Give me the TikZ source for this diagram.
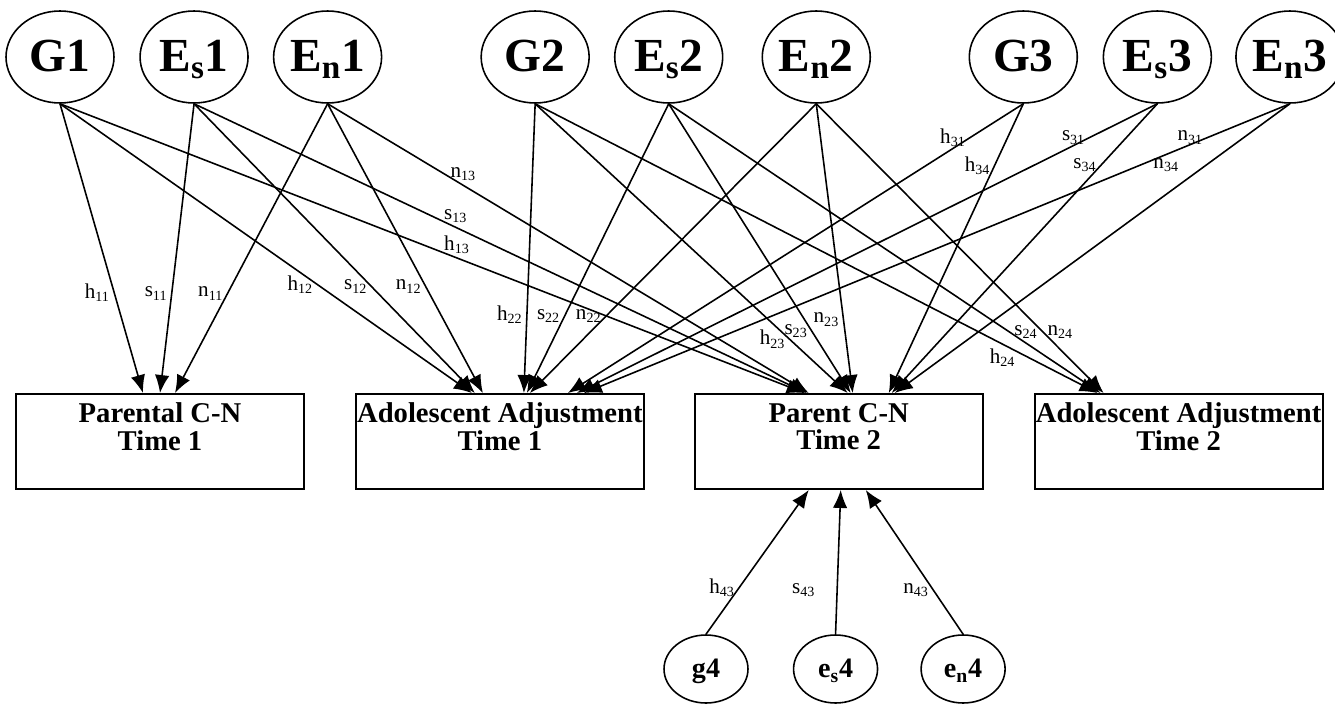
\documentclass[tikz,border=0pt]{standalone}
\usepackage{fontspec}
\setmainfont{Liberation Serif}
\usetikzlibrary{positioning,calc,arrows.meta,shapes.geometric}

\newcommand{\coef}[2]{#1\textsubscript{#2}}

\begin{document}
\begin{tikzpicture}[
  x=0.02cm, y=-0.02cm,
  line width=0.9pt,
  latent/.style={draw, ellipse, minimum width=2.16cm, minimum height=1.84cm,
                 inner sep=0pt, text height=18pt, text depth=1pt,
                 font=\fontsize{27}{30}\selectfont\bfseries},
  latentsm/.style={draw, ellipse, minimum width=1.68cm, minimum height=1.36cm,
                   inner sep=0pt, text height=11pt, text depth=1pt,
                   font=\fontsize{16}{19}\selectfont\bfseries},
  box/.style={draw, line width=1.1pt, minimum width=5.76cm, minimum height=1.9cm,
              inner xsep=0pt, align=center, text depth=17pt,
              font=\fontsize{16.3}{15.5}\selectfont\bfseries},
  effect/.style={-{Latex[length=3.6mm,width=2.9mm]}},
  coef/.style={font=\fontsize{12}{14}\selectfont, inner sep=2pt},
]
\useasboundingbox (0,0) rectangle (1335,706);

% ---------- genetic / environment factors ----------
\node[latent]                    (g1)  at (60,57) {G1};
\node[latent, right=0.49cm of g1]  (es1) {E\textsubscript{s}1};
\node[latent, right=0.48cm of es1] (en1) {E\textsubscript{n}1};

\node[latent, right=1.96cm of en1] (g2)  {G2};
\node[latent, right=0.48cm of g2]  (es2) {E\textsubscript{s}2};
\node[latent, right=0.76cm of es2] (en2) {E\textsubscript{n}2};

\node[latent, right=1.95cm of en2] (g3)  {G3};
\node[latent, right=0.49cm of g3]  (es3) {E\textsubscript{s}3};
\node[latent, right=0.46cm of es3] (en3) {E\textsubscript{n}3};

% ---------- measured variables ----------
\node[box]                      (pcn1) at (160,441.5) {Parental C-N\\Time 1};
\node[box, right=1cm of pcn1]    (adj1) {Adolescent Adjustment\\Time 1};
\node[box, right=0.98cm of adj1] (pcn2) {Parent C-N\\Time 2};
\node[box, right=1cm of pcn2]    (adj2) {Adolescent Adjustment\\Time 2};

% ---------- unique factors ----------
\node[latentsm]                    (g4)  at (706,669) {g4};
\node[latentsm, right=0.88cm of g4]  (es4) {e\textsubscript{s}4};
\node[latentsm, right=0.84cm of es4] (en4) {e\textsubscript{n}4};

% ---------- paths, time 1 ----------
\draw[effect] (g1.south) -- ($(pcn1.north)+(-17,0)$) node[coef, pos=.653, left] {\coef{h}{11}};
\draw[effect] (g1.south) -- ($(adj1.north)+(-28,0)$) node[coef, pos=.625, left] {\coef{h}{12}};
\draw[effect] (g1.south) -- ($(pcn2.north)+(-34,0)$) node[coef, pos=.533, above] {\coef{h}{13}};

\draw[effect] (es1.south) -- ($(pcn1.north)+(0,0)$)   node[coef, pos=.656, left] {\coef{s}{11}};
\draw[effect] (es1.south) -- ($(adj1.north)+(-25,0)$) node[coef, pos=.632, left] {\coef{s}{12}};
\draw[effect] (es1.south) -- ($(pcn2.north)+(-32,0)$) node[coef, pos=.427, above] {\coef{s}{13}};

\draw[effect] (en1.south) -- ($(pcn1.north)+(15,0)$)  node[coef, pos=.656, left] {\coef{n}{11}};
\draw[effect] (en1.south) -- ($(adj1.north)+(-17,0)$) node[coef, pos=.632, left] {\coef{n}{12}};
\draw[effect] (en1.south) -- ($(pcn2.north)+(-30,0)$) node[coef, pos=.282, above] {\coef{n}{13}};

% ---------- paths, time 2 ----------
\draw[effect] (g2.south) -- ($(adj1.north)+(24,0)$)  node[coef, pos=.729, left] {\coef{h}{22}};
\draw[effect] (g2.south) -- ($(pcn2.north)+(9,0)$)   node[coef, pos=.814, left] {\coef{h}{23}};
\draw[effect] (g2.south) -- ($(adj2.north)+(-81,0)$) node[coef, pos=.831, below] {\coef{h}{24}};

\draw[effect] (es2.south) -- ($(adj1.north)+(27,0)$)  node[coef, pos=.735, left] {\coef{s}{22}};
\draw[effect] (es2.south) -- ($(pcn2.north)+(12,0)$)  node[coef, pos=.787, left] {\coef{s}{23}};
\draw[effect] (es2.south) -- ($(adj2.north)+(-78,0)$) node[coef, pos=.827, above] {\coef{s}{24}};

\draw[effect] (en2.south) -- ($(adj1.north)+(30,0)$)  node[coef, pos=.735, left] {\coef{n}{22}};
\draw[effect] (en2.south) -- ($(pcn2.north)+(14,0)$)  node[coef, pos=.746, left] {\coef{n}{23}};
\draw[effect] (en2.south) -- ($(adj2.north)+(-75,0)$) node[coef, pos=.790, right] {\coef{n}{24}};

% ---------- paths, time 3 ----------
\draw[effect] (g3.south) -- ($(adj1.north)+(68,0)$) node[coef, pos=.117, left] {\coef{h}{31}};
\draw[effect] (g3.south) -- ($(pcn2.north)+(50,0)$) node[coef, pos=.213, left] {\coef{h}{34}};

\draw[effect] (es3.south) -- ($(adj1.north)+(77,0)$) node[coef, pos=.117, left] {\coef{s}{31}};
\draw[effect] (es3.south) -- ($(pcn2.north)+(53,0)$) node[coef, pos=.213, left] {\coef{s}{34}};

\draw[effect] (en3.south) -- ($(adj1.north)+(84,0)$) node[coef, pos=.117, left] {\coef{n}{31}};
\draw[effect] (en3.south) -- ($(pcn2.north)+(56,0)$) node[coef, pos=.213, left=4.5mm] {\coef{n}{34}};

% ---------- unique paths ----------
\draw[effect] (g4.north)  -- ($(pcn2.south)+(-30,0)$) node[coef, pos=.322, left] {\coef{h}{43}};
\draw[effect] (es4.north) -- ($(pcn2.south)+(2,0)$)   node[coef, pos=.308, left=3.5mm] {\coef{s}{43}};
\draw[effect] (en4.north) -- ($(pcn2.south)+(27,0)$)  node[coef, pos=.308, left] {\coef{n}{43}};

\end{tikzpicture}
\end{document}
